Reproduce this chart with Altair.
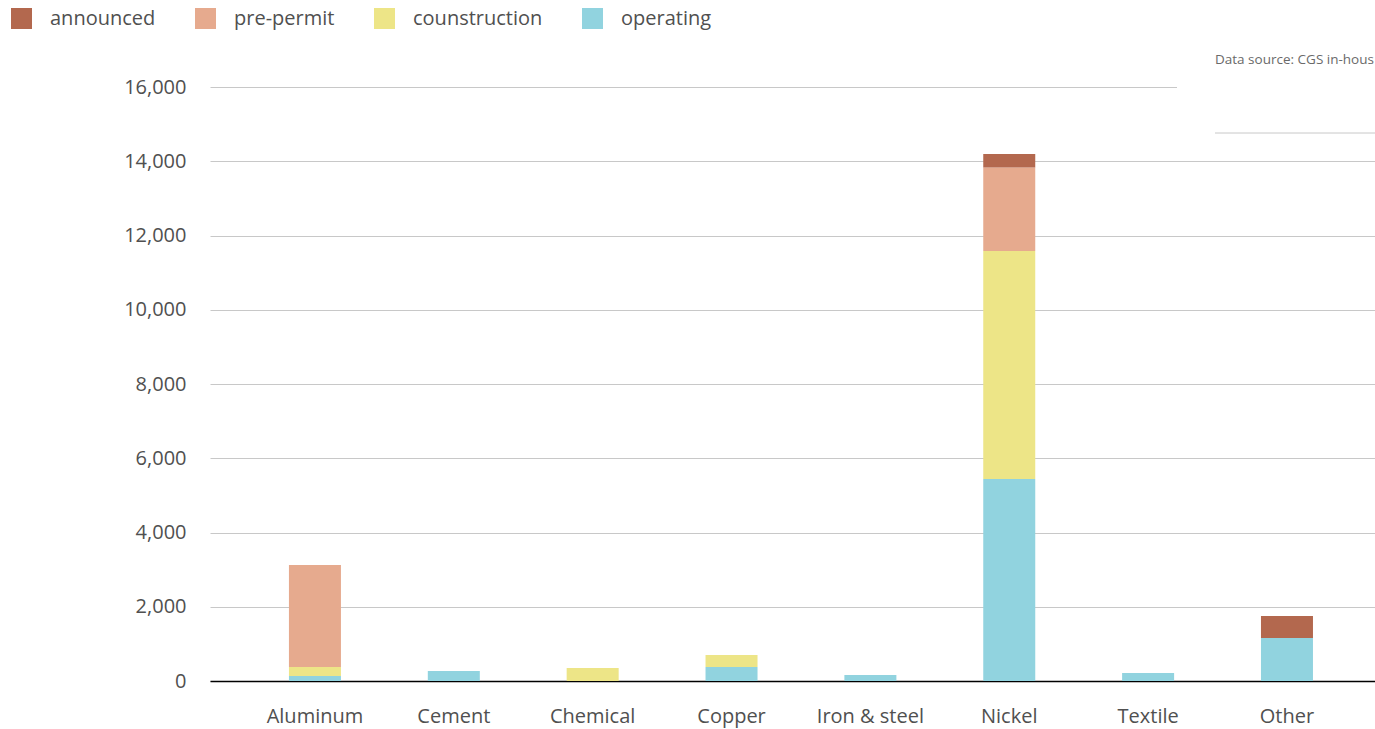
import altair as alt
import pandas as pd

categories = ["Aluminum", "Cement", "Chemical", "Copper", "Iron & steel", "Nickel", "Textile", "Other"]
statuses = ["announced", "pre-permit", "counstruction", "operating"]
colors = ["#b3684e", "#e6aa8e", "#ede587", "#91d3df"]

operating = [135, 270, 0, 377, 160, 5440, 215, 1157]
construction = [242, 0, 350, 323, 0, 6140, 0, 0]
pre_permit = [2745, 0, 0, 0, 0, 2250, 0, 0]
announced = [0, 0, 0, 0, 0, 365, 0, 593]

y_ticks = [0, 2000, 4000, 6000, 8000, 10000, 12000, 14000, 16000]
source_text = "Data source: CGS in-hous"

rows = []
series = {"operating": operating, "counstruction": construction,
          "pre-permit": pre_permit, "announced": announced}
stack_rank = {"operating": 0, "counstruction": 1, "pre-permit": 2, "announced": 3}
for status, vals in series.items():
    for cat, v in zip(categories, vals):
        if v > 0:
            rows.append({"category": cat, "status": status, "value": v, "rank": stack_rank[status]})
df = pd.DataFrame(rows)

W, H = 1165, 594
FONT = "Open Sans"

bars = alt.Chart(df).mark_bar().encode(
    x=alt.X("category:N", sort=categories, title=None,
            scale=alt.Scale(domain=categories, paddingInner=0.6255, paddingOuter=0.5076, align=0.56),
            axis=alt.Axis(labelAngle=0, ticks=False, domainColor="#000000", domainWidth=1.5,
                          labelPadding=25, labelFontSize=20, labelColor="#505050",
                          labelFont=FONT, grid=False)),
    y=alt.Y("value:Q", stack="zero", title=None,
            scale=alt.Scale(domain=[0, 16000], nice=False),
            axis=alt.Axis(values=y_ticks, format=",.0f", ticks=False, domain=False,
                          labelPadding=24, labelFontSize=20, labelColor="#505050",
                          labelFont=FONT, gridColor="#c8c8c8", gridWidth=1)),
    color=alt.Color("status:N", scale=alt.Scale(domain=statuses, range=colors),
                    legend=alt.Legend(title=None, orient="none", legendX=-199, legendY=-79,
                                      direction="horizontal", symbolType="square",
                                      symbolSize=441, symbolStrokeWidth=0,
                                      labelFontSize=20, labelFont=FONT, labelColor="#505050",
                                      labelOffset=18, columnPadding=39, padding=0)),
    order=alt.Order("rank:Q", sort="ascending"),
)

cover = alt.Chart(pd.DataFrame({"t": [source_text]})).mark_rect(color="white").encode(
    x=alt.value(967), x2=alt.value(1170), y=alt.value(-40), y2=alt.value(5)
)
src = alt.Chart(pd.DataFrame({"t": [source_text]})).mark_text(
    align="left", baseline="middle", fontSize=13.5, font=FONT, color="#6a6a6a"
).encode(x=alt.value(1005), y=alt.value(-27), text="t:N")
rule = alt.Chart(pd.DataFrame({"t": [source_text]})).mark_rule(color="#c8c8c8", strokeWidth=1).encode(
    x=alt.value(1005), x2=alt.value(1170), y=alt.value(46)
)

chart = alt.layer(bars, cover, src, rule).properties(
    width=W, height=H,
    autosize=alt.AutoSizeParams(type="none"),
    padding={"left": 210, "top": 87, "right": 0, "bottom": 48},
    background="white",
).configure_view(stroke=None)

chart.save("out.html", embed_options={"renderer": "svg", "actions": False})
